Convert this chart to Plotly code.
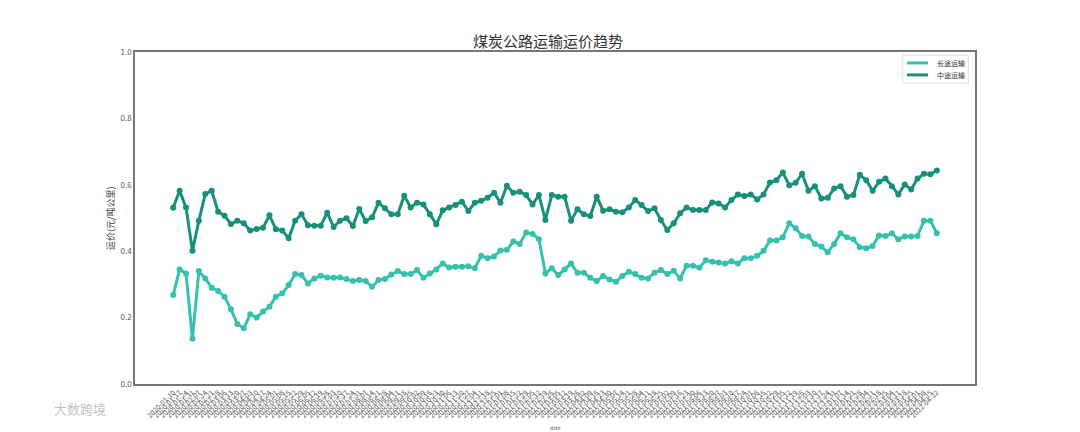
"""Coal road transport freight rate trend chart."""
import pandas as pd
import plotly.graph_objects as go

# weekly dates
dates = pd.date_range("2020-01-10", periods=120, freq="7D").strftime("%Y-%m-%d").tolist()

# 长途运输 (long haul), yuan / ton-km
long_haul = [
    0.268, 0.345, 0.333, 0.136, 0.340, 0.318, 0.290, 0.280, 0.263, 0.225,
    0.181, 0.168, 0.210, 0.200, 0.218, 0.233, 0.263, 0.273, 0.298, 0.331,
    0.328, 0.303, 0.318, 0.326, 0.321, 0.320, 0.321, 0.316, 0.310, 0.313,
    0.310, 0.293, 0.313, 0.316, 0.330, 0.340, 0.331, 0.331, 0.343, 0.320,
    0.333, 0.345, 0.363, 0.351, 0.353, 0.353, 0.355, 0.349, 0.386, 0.379,
    0.384, 0.402, 0.404, 0.429, 0.422, 0.456, 0.452, 0.436, 0.333, 0.349,
    0.328, 0.345, 0.363, 0.335, 0.335, 0.320, 0.310, 0.325, 0.315, 0.308,
    0.325, 0.338, 0.331, 0.320, 0.318, 0.335, 0.343, 0.331, 0.341, 0.318,
    0.356, 0.356, 0.350, 0.373, 0.368, 0.366, 0.363, 0.370, 0.363, 0.379,
    0.379, 0.386, 0.401, 0.432, 0.432, 0.442, 0.484, 0.469, 0.446, 0.444,
    0.422, 0.414, 0.397, 0.422, 0.454, 0.442, 0.436, 0.412, 0.409, 0.416,
    0.447, 0.446, 0.454, 0.436, 0.444, 0.444, 0.446, 0.492, 0.492, 0.454,
]

# 中途运输 (medium haul), yuan / ton-km
mid_haul = [
    0.531, 0.582, 0.532, 0.401, 0.492, 0.572, 0.582, 0.519, 0.507, 0.482,
    0.492, 0.484, 0.462, 0.467, 0.471, 0.508, 0.466, 0.462, 0.439, 0.492,
    0.511, 0.478, 0.477, 0.477, 0.516, 0.473, 0.492, 0.499, 0.476, 0.527,
    0.491, 0.502, 0.546, 0.529, 0.511, 0.511, 0.567, 0.532, 0.546, 0.541,
    0.511, 0.481, 0.523, 0.532, 0.539, 0.549, 0.521, 0.546, 0.552, 0.561,
    0.576, 0.546, 0.597, 0.576, 0.579, 0.569, 0.541, 0.569, 0.494, 0.569,
    0.564, 0.564, 0.492, 0.526, 0.511, 0.506, 0.564, 0.522, 0.526, 0.519,
    0.517, 0.532, 0.554, 0.539, 0.521, 0.529, 0.494, 0.464, 0.484, 0.514,
    0.532, 0.524, 0.524, 0.524, 0.547, 0.544, 0.532, 0.554, 0.571, 0.566,
    0.571, 0.556, 0.571, 0.607, 0.614, 0.637, 0.599, 0.606, 0.633, 0.582,
    0.596, 0.559, 0.561, 0.589, 0.596, 0.564, 0.569, 0.630, 0.614, 0.582,
    0.609, 0.619, 0.596, 0.571, 0.601, 0.586, 0.619, 0.633, 0.632, 0.643,
]

LIGHT = "#35c1ac"
DARK = "#17907a"
FONT = "Noto Sans CJK SC"
series = [("长途运输", long_haul, LIGHT), ("中途运输", mid_haul, DARK)]

fig = go.Figure()
for name, vals, color in series:
    fig.add_trace(go.Scatter(
        x=dates, y=vals, mode="lines+markers", name=name,
        line=dict(color=color, width=3), marker=dict(color=color, size=6),
        showlegend=False,
    ))

# page body has an 8px margin, so the margins below are shifted to match
fig.update_layout(
    width=1080, height=432,
    margin=dict(l=127, r=113, t=44, b=56),
    paper_bgcolor="white", plot_bgcolor="white",
    font=dict(family=FONT, color="#444"),
    title=dict(text="煤炭公路运输运价趋势", x=0.5, xanchor="center",
               y=1 - 34 / 432, yanchor="middle",
               font=dict(size=15, color="#333")),
    showlegend=False,
)

# compact legend box drawn by hand (plotly's own legend rows are too tall)
fig.add_shape(type="rect", xref="paper", yref="paper",
              x0=0.914, x1=0.992, y0=0.907, y1=0.991,
              line=dict(color="#ddd", width=1), fillcolor="white")
for k, (name, _, color) in enumerate(series):
    yy = 0.967 - k * 0.036
    fig.add_shape(type="line", xref="paper", yref="paper",
                  x0=0.919, x1=0.944, y0=yy, y1=yy,
                  line=dict(color=color, width=3))
    fig.add_annotation(text=name, xref="paper", yref="paper", x=0.952, y=yy,
                       xanchor="left", yanchor="middle", showarrow=False,
                       font=dict(size=7, color="#333"))

fig.add_annotation(text="大数跨境", xref="paper", yref="paper", x=-0.099, y=-0.075,
                   xanchor="left", yanchor="middle", showarrow=False,
                   font=dict(size=13, color="rgba(175,175,175,0.8)", family=FONT))
fig.add_annotation(text="date", xref="paper", yref="paper", x=0.5, y=-0.1325,
                   xanchor="center", yanchor="middle", showarrow=False,
                   font=dict(size=5, color="#555"))
fig.add_annotation(text="运价(元/吨公里)", xref="paper", yref="paper", x=-0.0298, y=0.5,
                   xanchor="center", yanchor="middle", showarrow=False, textangle=-90,
                   font=dict(size=9, color="#444"))
fig.update_xaxes(
    type="category", range=[-5.95, 124.95],
    tickmode="array", tickvals=dates, ticktext=dates, tickangle=-45,
    tickfont=dict(size=7, color="#555"), automargin=False,
    showline=True, linecolor="#777", linewidth=1.5, mirror=True,
    showgrid=False, zeroline=False,
)
fig.update_yaxes(
    range=[0, 1], dtick=0.2, tickformat=".1f",
    tickfont=dict(size=8, color="#555"), automargin=False,
    showline=True, linecolor="#777", linewidth=1.5, mirror=True,
    showgrid=False, zeroline=False,
)

fig.write_html("out.html")
